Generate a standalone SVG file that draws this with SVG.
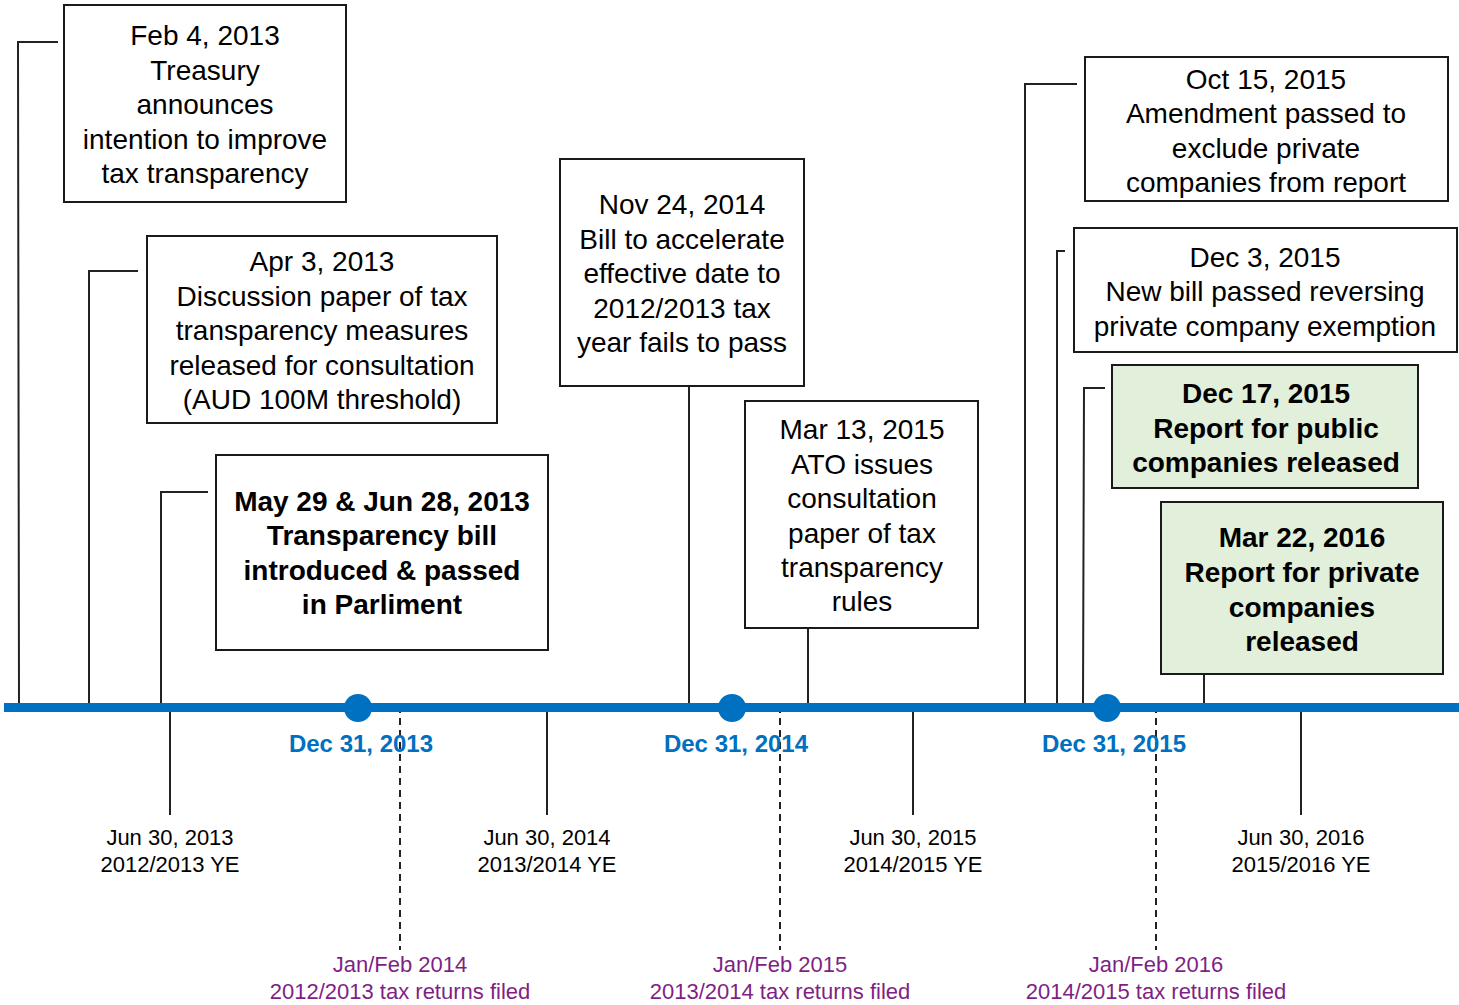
<svg xmlns="http://www.w3.org/2000/svg" width="1459" height="1005" viewBox="0 0 1459 1005">
<style>
.box{fill:#fff;stroke:#1a1a1a;stroke-width:2}
.green{fill:#E2EFDA;stroke:#1a1a1a;stroke-width:2}
.t{font-family:"Liberation Sans",Arial,sans-serif;font-size:28px;fill:#000;text-anchor:middle}
.b{font-weight:bold}
.c{fill:none;stroke:#222;stroke-width:2}
.d{fill:none;stroke:#222;stroke-width:2;stroke-dasharray:7,5}
.lab{font-family:"Liberation Sans",Arial,sans-serif;font-size:22px;fill:#000;text-anchor:middle}
.dec{font-family:"Liberation Sans",Arial,sans-serif;font-size:24px;font-weight:bold;fill:#0070C0;text-anchor:middle}
.pur{font-family:"Liberation Sans",Arial,sans-serif;font-size:22px;fill:#7F1F86;text-anchor:middle}
</style>
<rect width="1459" height="1005" fill="#fff"/>
<g id="connectors">
<polyline class="c" points="58,42 18,42 19,704"/>
<polyline class="c" points="138,271 89,271 89,704"/>
<polyline class="c" points="208,492 161,492 161,704"/>
<line class="c" x1="689" y1="386" x2="689" y2="704"/>
<line class="c" x1="808" y1="628" x2="808" y2="704"/>
<polyline class="c" points="1077,84 1025,84 1025,704"/>
<polyline class="c" points="1065,251 1057,251 1057,704"/>
<polyline class="c" points="1105,388 1084,388 1083,704"/>
<line class="c" x1="1204" y1="674" x2="1204" y2="704"/>
<line class="c" x1="170" y1="710" x2="170" y2="815"/>
<line class="c" x1="547" y1="710" x2="547" y2="815"/>
<line class="c" x1="913" y1="710" x2="913" y2="815"/>
<line class="c" x1="1301" y1="710" x2="1301" y2="815"/>
<line class="d" x1="400" y1="706" x2="400" y2="950"/>
<line class="d" x1="780" y1="706" x2="780" y2="950"/>
<line class="d" x1="1156" y1="706" x2="1156" y2="950"/>
</g>
<g id="timeline">
<line x1="4" y1="707.5" x2="1459" y2="707.5" stroke="#0070C0" stroke-width="9"/>
<circle cx="358" cy="708" r="14" fill="#0070C0"/>
<circle cx="732" cy="708" r="14" fill="#0070C0"/>
<circle cx="1107" cy="708" r="14" fill="#0070C0"/>
<text class="dec" x="361" y="752">Dec 31, 2013</text>
<text class="dec" x="736" y="752">Dec 31, 2014</text>
<text class="dec" x="1114" y="752">Dec 31, 2015</text>
</g>
<g id="ye-labels">
<text class="lab" x="170" y="845">Jun 30, 2013</text><text class="lab" x="170" y="872">2012/2013 YE</text>
<text class="lab" x="547" y="845">Jun 30, 2014</text><text class="lab" x="547" y="872">2013/2014 YE</text>
<text class="lab" x="913" y="845">Jun 30, 2015</text><text class="lab" x="913" y="872">2014/2015 YE</text>
<text class="lab" x="1301" y="845">Jun 30, 2016</text><text class="lab" x="1301" y="872">2015/2016 YE</text>
</g>
<g id="filing-labels">
<text class="pur" x="400" y="972">Jan/Feb 2014</text><text class="pur" x="400" y="999">2012/2013 tax returns filed</text>
<text class="pur" x="780" y="972">Jan/Feb 2015</text><text class="pur" x="780" y="999">2013/2014 tax returns filed</text>
<text class="pur" x="1156" y="972">Jan/Feb 2016</text><text class="pur" x="1156" y="999">2014/2015 tax returns filed</text>
</g>
<g id="n1">
<rect class="box" x="64" y="5" width="282" height="197"/>
<text class="t" x="205" y="45">Feb 4, 2013</text>
<text class="t" x="205" y="80">Treasury</text>
<text class="t" x="205" y="114">announces</text>
<text class="t" x="205" y="149">intention to improve</text>
<text class="t" x="205" y="183">tax transparency</text>
</g>
<g id="n2">
<rect class="box" x="147" y="236" width="350" height="187"/>
<text class="t" x="322" y="271">Apr 3, 2013</text>
<text class="t" x="322" y="306">Discussion paper of tax</text>
<text class="t" x="322" y="340">transparency measures</text>
<text class="t" x="322" y="375">released for consultation</text>
<text class="t" x="322" y="409">(AUD 100M threshold)</text>
</g>
<g id="n3">
<rect class="box" x="216" y="455" width="332" height="195"/>
<text class="t b" x="382" y="511">May 29 &amp; Jun 28, 2013</text>
<text class="t b" x="382" y="545">Transparency bill</text>
<text class="t b" x="382" y="580">introduced &amp; passed</text>
<text class="t b" x="382" y="614">in Parliment</text>
</g>
<g id="n4">
<rect class="box" x="560" y="159" width="244" height="227"/>
<text class="t" x="682" y="214">Nov 24, 2014</text>
<text class="t" x="682" y="249">Bill to accelerate</text>
<text class="t" x="682" y="283">effective date to</text>
<text class="t" x="682" y="318">2012/2013 tax</text>
<text class="t" x="682" y="352">year fails to pass</text>
</g>
<g id="n5">
<rect class="box" x="745" y="401" width="233" height="227"/>
<text class="t" x="862" y="439">Mar 13, 2015</text>
<text class="t" x="862" y="474">ATO issues</text>
<text class="t" x="862" y="508">consultation</text>
<text class="t" x="862" y="543">paper of tax</text>
<text class="t" x="862" y="577">transparency</text>
<text class="t" x="862" y="611">rules</text>
</g>
<g id="n6">
<rect class="box" x="1085" y="57" width="363" height="144"/>
<text class="t" x="1266" y="89">Oct 15, 2015</text>
<text class="t" x="1266" y="123">Amendment passed to</text>
<text class="t" x="1266" y="158">exclude private</text>
<text class="t" x="1266" y="192">companies from report</text>
</g>
<g id="n7">
<rect class="box" x="1074" y="228" width="383" height="124"/>
<text class="t" x="1265" y="267">Dec 3, 2015</text>
<text class="t" x="1265" y="301">New bill passed reversing</text>
<text class="t" x="1265" y="336">private company exemption</text>
</g>
<g id="n8">
<rect class="green" x="1112" y="365" width="306" height="123"/>
<text class="t b" x="1266" y="403">Dec 17, 2015</text>
<text class="t b" x="1266" y="438">Report for public</text>
<text class="t b" x="1266" y="472">companies released</text>
</g>
<g id="n9">
<rect class="green" x="1161" y="502" width="282" height="172"/>
<text class="t b" x="1302" y="547">Mar 22, 2016</text>
<text class="t b" x="1302" y="582">Report for private</text>
<text class="t b" x="1302" y="617">companies</text>
<text class="t b" x="1302" y="651">released</text>
</g>
</svg>
